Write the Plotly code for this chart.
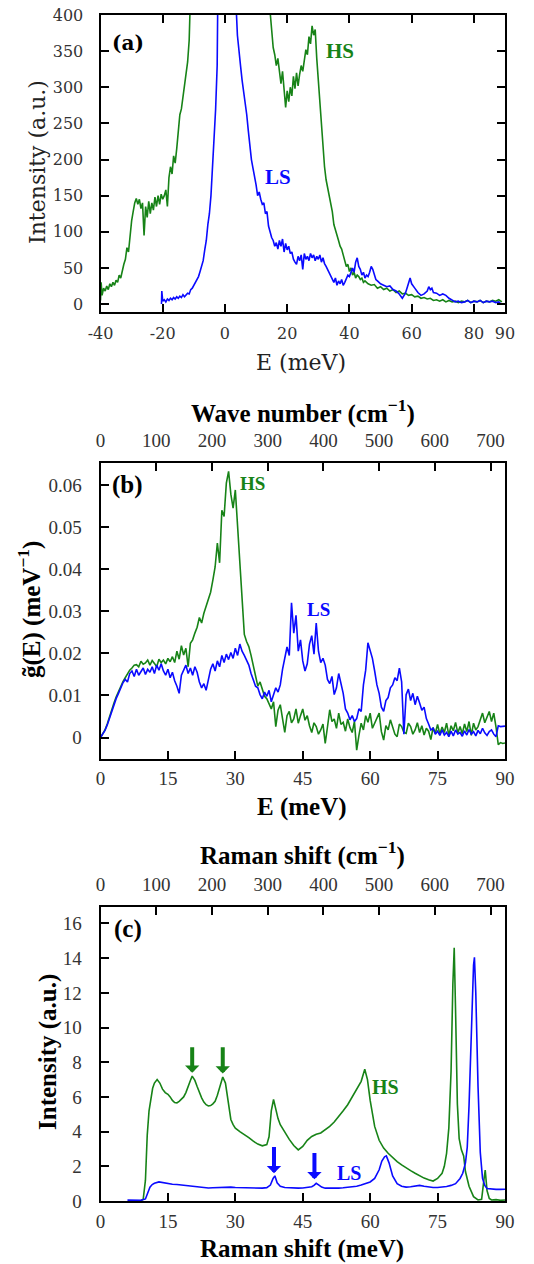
import plotly.graph_objects as go

GREEN = "#178317"
BLUE = "#0a0aff"

# ---------------- Panel (a): inelastic spectra ----------------
a_hs_E = [-40, -39.8, -39.5, -39, -38.5, -38, -37.5, -37, -36.5, -36, -35.5, -35, -34.5, -34, -33.5, -33,
          -32.5, -32, -31.5, -31, -30.5, -30, -29.5, -29, -28.5, -28, -27.5, -27, -26.5, -26, -25.5, -25,
          -24.5, -24, -23.5, -23, -22.5, -22, -21.5, -21, -20.5, -20, -19.5, -19, -18.5, -18, -17.5, -17,
          -16.5, -16, -15.5, -15, -14.5, -14, -13.5, -13, -12.5, -12, -11.5, -11,
          -10, -8, -6, -4, -2, 0, 2, 4, 6, 8, 10, 12, 13, 14,
          14.5, 15, 15.5, 16, 16.5, 17, 17.5, 18, 18.5, 19, 19.5, 20, 20.5, 21, 21.5, 22, 22.5, 23, 23.5, 24,
          24.5, 25, 25.5, 26, 26.5, 27, 27.5, 28, 28.5, 29, 29.5, 30, 30.5, 31, 31.5, 32, 32.5, 33, 33.5, 34,
          34.5, 35, 35.5, 36, 36.5, 37, 37.5, 38, 38.5, 39, 39.5, 40, 40.5, 41, 41.5, 42, 42.5, 43, 43.5, 44,
          44.5, 45,
          46, 47, 48, 49, 50, 51, 52, 53, 54, 55, 56, 57, 58, 59, 60, 61, 62, 63, 64, 65, 66, 67, 68, 69, 70,
          71, 72, 73, 74, 75, 76, 77, 78, 79, 80, 81, 82, 83, 84, 85, 86, 87, 88, 89]
a_hs_I = [5, 30, 12, 22, 18, 25, 20, 28, 24, 30, 26, 33, 30, 40, 36, 48, 55, 62, 78, 72,
          95, 115, 128, 140, 146, 138, 145, 132, 140, 95, 135, 120, 142, 125, 140, 130, 148, 135, 150, 138,
          152, 145, 150, 158, 135, 175, 190, 180, 205, 195, 215, 240, 262, 270, 285, 300, 318, 335, 365, 410,
          520, 900, 1500, 2500, 4000, 5000, 4000, 2500, 1600, 1100, 800, 600, 520, 440,
          405, 380, 355, 345, 330, 340, 318, 305, 322, 290, 272, 295, 280, 300, 288, 315, 298, 320, 302, 318,
          330, 322, 340, 352, 345, 370, 360, 385, 372, 380, 340, 310, 285, 245, 215, 190, 172, 160, 148, 140,
          128, 110, 102, 92, 88, 80, 76, 68, 60, 52, 55, 45, 50, 40, 44, 36, 40, 38, 34, 36,
          30, 32,
          28, 26, 27, 22, 24, 20, 22, 18, 20, 16, 18, 14, 15, 12, 13, 10, 11, 8, 9, 7, 8, 5, 6, 4, 6,
          3, 5, 3, 4, 2, 4, 3, 5, 2, 4, 3, 5, 2, 4, 3, 5, 4, 6, 3]

a_ls_E = [-20.4, -20.3, -20, -19.5, -19, -18.5, -18, -17.5, -17, -16.5, -16, -15.5, -15, -14.5, -14, -13.5,
          -13, -12.5, -12, -11.5, -11, -10.5, -10, -9.5, -9, -8.5, -8, -7.5, -7, -6.5, -6, -5.5, -5, -4.5,
          -4, -3.5, -3, -2.5, -2,
          -1, 0, 1, 2, 3,
          3.5, 4, 4.5, 5, 5.5, 6, 6.5, 7, 7.5, 8, 8.5, 9, 9.5, 10, 10.5, 11, 11.5, 12, 12.5, 13,
          13.5, 14, 14.5, 15, 15.5, 16, 16.5, 17, 17.5, 18, 18.5, 19, 19.5, 20, 20.5, 21, 21.5, 22, 22.5, 23,
          23.5, 24, 24.5, 25, 25.5, 26, 26.5, 27, 27.5, 28, 28.5, 29, 29.5, 30, 30.5, 31, 31.5, 32, 32.5, 33,
          33.5, 34, 34.5, 35, 35.5, 36, 36.5, 37, 37.5, 38, 38.5, 39, 39.5, 40, 40.5, 41, 41.5, 42, 42.5, 43,
          43.5, 44, 44.5, 45, 45.5, 46, 46.5, 47, 47.5, 48, 48.5, 49, 49.5, 50,
          51, 52, 53, 54, 55, 56, 57, 57.5, 58, 58.5, 59, 59.5, 60, 60.5, 61, 62, 63, 64, 65, 65.5, 66, 66.5,
          67, 68, 69, 70, 71, 72, 73, 74, 75, 76, 77, 78, 79, 80, 81, 82, 83, 84, 85, 86, 87, 88, 88.5]
a_ls_I = [0, 18, 4, 6, 3, 7, 5, 8, 6, 9, 7, 10, 8, 11, 9, 13, 10, 12, 15, 14,
          20, 22, 26, 30, 35, 38, 45, 52, 60, 75, 88, 110, 125, 150, 185, 220, 270, 330, 410,
          700, 1500, 2000, 1200, 600,
          420, 372, 355, 330, 310, 295, 280, 262, 240, 215, 200, 188, 178, 165, 150, 155, 145, 138, 140, 125,
          128, 108, 100, 92, 88, 80, 85, 76, 88, 80, 90, 72, 84, 75, 80, 70, 72, 62, 58, 55,
          66, 60, 68, 48, 70, 62, 66, 60, 70, 64, 68, 60, 66, 62, 68, 58, 64, 56, 52, 48,
          44, 40, 34, 30, 36, 26, 32, 28, 34, 26, 30, 34, 40, 38, 46, 50, 44, 58, 64, 52,
          48, 40, 44, 36, 40, 38, 44, 52, 48, 40, 34, 32, 30, 28,
          26, 24, 25, 20, 18, 14, 8, 12, 15, 22, 30, 36, 28, 24, 22, 16, 12, 14, 18, 24, 20, 22,
          16, 15, 12, 14, 12, 8, 6, 3, 4, 2, 3, 5, 2, 4, 3, 5, 2, 4, 3, 4, 2, 3, 1]

a_xticks = [-40, -20, 0, 20, 40, 60, 80, 90]
a_xlabels = ["-40", "-20", "0", "20", "40", "60", "80", "90"]
a_yticks = [0, 50, 100, 150, 200, 250, 300, 350, 400]

# ---------------- Panel (b): phonon DOS ----------------
b_E = [0, 0.5, 1, 1.5, 2, 2.5, 3, 3.5, 4, 4.5, 5, 5.5, 6, 6.5, 7, 7.5, 8, 8.5, 9, 9.5,
       10, 10.5, 11, 11.5, 12, 12.5, 13, 13.5, 14, 14.5, 15, 15.5, 16, 16.5, 17, 17.5, 18, 18.5, 19, 19.5,
       20, 20.5, 21, 21.5, 22, 22.5, 23, 23.5, 24, 24.5, 25, 25.5, 26, 26.5, 27, 27.5, 28, 28.5, 29, 29.5,
       30, 30.5, 31, 31.5, 32, 32.5, 33, 33.5, 34, 34.5, 35, 35.5, 36, 36.5, 37, 37.5, 38, 38.5, 39, 39.5,
       40, 40.5, 41, 41.5, 42, 42.5, 43, 43.5, 44, 44.5, 45, 45.5, 46, 46.5, 47, 47.5, 48, 48.5, 49, 49.5,
       50, 50.5, 51, 51.5, 52, 52.5, 53, 53.5, 54, 54.5, 55, 55.5, 56, 56.5, 57, 57.5, 58, 58.5, 59, 59.5,
       60, 60.5, 61, 61.5, 62, 62.5, 63, 63.5, 64, 64.5, 65, 65.5, 66, 66.5, 67, 67.5, 68, 68.5, 69, 69.5,
       70, 70.5, 71, 71.5, 72, 72.5, 73, 73.5, 74, 74.5, 75, 75.5, 76, 76.5, 77, 77.5, 78, 78.5, 79, 79.5,
       80, 80.5, 81, 81.5, 82, 82.5, 83, 83.5, 84, 84.5, 85, 85.5, 86, 86.5, 87, 87.5, 88, 88.5, 89, 89.5,
       90]
b_hs_g = [0, 0.0008, 0.0018, 0.0032, 0.005, 0.0066, 0.0082, 0.0097, 0.011, 0.0122,
          0.0133, 0.0142, 0.0153, 0.016, 0.0165, 0.0172, 0.0173, 0.0168, 0.0181, 0.0174,
          0.0177, 0.0184, 0.0172, 0.0183, 0.0176, 0.0168, 0.0186, 0.0178, 0.0184, 0.0175,
          0.0188, 0.018, 0.0192, 0.0178, 0.0205, 0.0186, 0.0218, 0.0196, 0.0212, 0.0168,
          0.0224, 0.0232, 0.0248, 0.0262, 0.0285, 0.0272, 0.0295, 0.0312, 0.0327, 0.0345,
          0.0374, 0.0405, 0.0462, 0.0415, 0.054, 0.0525, 0.0604, 0.0632, 0.0578, 0.0545,
          0.0588, 0.05, 0.0406, 0.031, 0.0245, 0.0228, 0.0216, 0.0195, 0.0169, 0.0142,
          0.0122, 0.0132, 0.0113, 0.0098, 0.0092, 0.0078, 0.0068, 0.0085, 0.0026, 0.0065,
          0.0078, 0.0045, 0.0012, 0.0052, 0.0062, 0.0035, 0.0044, 0.0068, 0.0034, 0.0052,
          0.0068, 0.0041, 0.0052, 0.0028, 0.0012, 0.0035, 0.0026, 0.0008, 0.0018, 0.0032,
          -0.0014, 0.0025, 0.0066, 0.0038, 0.0044, 0.0022, 0.0058, 0.0031, 0.0036, 0.0015,
          0.0044, 0.0024, 0.0012, 0.0038, -0.003, 0.0005, 0.0034, 0.0018, 0.0052, 0.0036,
          0.0058, 0.0022, 0.0034, 0.0048, 0.0058, 0.0014, -0.0006, 0.0028, 0.0018, 0.0042,
          0.0026, 0.0008, 0.0002, 0.0032, 0.0026, 0.0012, 0.001, 0.0034, 0.0026, 0.0008,
          0.0018, 0.0035, 0.0012, 0.0028, 0.0006, 0.0022, 0.0015, -0.0005, 0.0024, 0.001,
          0.0031, 0.0008, 0.0025, 0.0012, 0.0034, 0.0005, 0.0028, 0.0016, 0.0036, 0.0011,
          0.0026, 0.0009, 0.0032, 0.0014, 0.0038, 0.0005, 0.0034, 0.0018, 0.0026, 0.0042,
          0.0058, 0.0035, 0.0048, 0.0062, 0.0038, 0.0058, 0.0025, -0.0017, -0.0012, -0.0014,
          -0.0013]
b_ls_g = [0, 0.0008, 0.0017, 0.003, 0.0047, 0.0062, 0.0078, 0.0093, 0.0105, 0.0118,
          0.013, 0.0138, 0.0132, 0.0152, 0.0158, 0.0145, 0.0162, 0.0148, 0.0158, 0.0165,
          0.015, 0.0162, 0.0155, 0.0168, 0.0152, 0.0172, 0.016, 0.0175, 0.0158, 0.0148,
          0.0162, 0.0142, 0.0155, 0.0135, 0.0122, 0.0105, 0.0148, 0.016, 0.0172, 0.0152,
          0.0165, 0.0148, 0.0168, 0.0155, 0.0132, 0.0118, 0.0128, 0.0112, 0.0135, 0.0162,
          0.0175, 0.0158, 0.0182, 0.0168, 0.0195, 0.0178, 0.0198, 0.0185, 0.0202, 0.0188,
          0.0212, 0.0195, 0.0222, 0.0205, 0.0195, 0.0185, 0.0172, 0.0152, 0.0135, 0.0122,
          0.0118, 0.0102, 0.0092, 0.0108, 0.0098, 0.0112, 0.0085, 0.0102, 0.0118, 0.0108,
          0.0125, 0.0162, 0.0185, 0.0215, 0.0195, 0.032, 0.0248, 0.029, 0.0205, 0.0232,
          0.0182, 0.0158, 0.0175, 0.0222, 0.0242, 0.0198, 0.0272, 0.0205, 0.0178, 0.0188,
          0.0172, 0.0138, 0.0128, 0.0145, 0.0102, 0.0118, 0.0152, 0.0125, 0.0105, 0.0068,
          0.0058, 0.0042, 0.0052, 0.0038, 0.0045, 0.0068, 0.0062, 0.0125, 0.016, 0.0225,
          0.0205, 0.0188, 0.0158, 0.0125, 0.0105, 0.0072, 0.0062, 0.0088, 0.0095, 0.0118,
          0.0125, 0.0142, 0.0135, 0.0165, 0.0132, 0.0008, 0.0102, 0.0115, 0.0088, 0.0105,
          0.0078, 0.0098, 0.0082, 0.0065, 0.0072, 0.0045, 0.0032, 0.0018, 0.0022, 0.0008,
          0.0015, 0.0005, 0.0018, 0.0006, 0.0012, 0.0002, 0.0015, 0.0004, 0.0018, 0.0008,
          0.0012, 0.0003, 0.0016, 0.0006, 0.0019, 0.0008, 0.0014, 0.0004, 0.0017, 0.0009,
          0.0022, 0.0011, 0.0005, 0.0014, 0.0018, 0.0008, 0.0002, 0.0028, 0.0026, 0.0027,
          0.0027]

meV_ticks = [0, 15, 30, 45, 60, 75, 90]
b_yticks = [0, 0.01, 0.02, 0.03, 0.04, 0.05, 0.06]
wn_ticks = [0, 100, 200, 300, 400, 500, 600, 700]
MEV_TO_CM = 8.06554

# ---------------- Panel (c): Raman spectra ----------------
c_hs_E = [9, 9.5, 10, 10.4, 10.8, 11.2, 11.6, 12, 12.6, 13.2, 13.8, 14.4, 15, 15.5, 16, 16.5, 17, 17.5, 18,
          18.5, 19, 19.5, 20, 20.4, 21, 21.5, 22, 22.5, 23, 23.5, 24, 24.5, 25, 25.5, 26, 26.5, 27.2, 27.8,
          28.4, 29, 29.5, 30, 31, 32, 33, 34, 35, 36, 37, 37.5, 38, 38.5, 39, 39.5, 40, 41, 42, 43, 44, 45,
          46, 47, 48, 49, 50, 51, 52, 53, 54, 55, 56, 57, 58, 58.8, 59.4, 60, 60.5, 61, 62, 63, 64, 65, 66,
          67, 68, 69, 70, 71, 72, 73, 74, 75, 76, 76.5, 77, 77.5, 78, 78.4, 78.7, 79, 79.4, 79.8, 80.3, 80.8,
          81.2, 82, 83, 84, 84.8, 85.3, 85.6, 86, 86.5, 87, 88, 89, 90]
c_hs_I = [0.02, 0.1, 1.2, 3.8, 5.2, 6.0, 6.5, 6.8, 7.0, 6.8, 6.45, 6.25, 6.15, 6.0, 5.8, 5.68, 5.65, 5.75,
          5.85, 6.0, 6.25, 6.55, 6.95, 7.2, 6.95, 6.6, 6.25, 5.95, 5.7, 5.55, 5.48, 5.5, 5.6, 5.75, 6.1, 6.6,
          7.15, 6.8, 5.6, 4.7, 4.4, 4.2, 4.0, 3.85, 3.65, 3.45, 3.28, 3.18, 3.25, 3.7, 5.2, 5.85, 5.2, 4.75,
          4.4, 3.95, 3.55, 3.2, 2.95, 3.15, 3.5, 3.72, 3.85, 3.92, 4.1, 4.3, 4.55, 4.85, 5.2, 5.55, 6.0, 6.4,
          6.9, 7.6, 7.0, 5.8, 4.9, 4.3, 3.5, 3.05, 2.75, 2.48, 2.27, 2.08, 1.9, 1.75, 1.6, 1.45, 1.32, 1.22,
          1.15, 1.3, 1.6, 2.0, 2.75, 4.2, 7.5, 12.5, 14.6, 11.0, 5.6, 3.6, 2.95, 2.6, 1.7, 0.85, 0.25, 0.06,
          0.1, 1.2, 1.78, 0.6, 0.15, 0.06, 0.08, 0.04, 0.06]
c_ls_E = [6, 7, 8, 9, 10, 10.5, 11, 11.5, 12, 13, 14, 15, 16, 17, 18, 19, 20, 21, 22, 23, 24, 25, 26, 27, 28,
          29, 30, 31, 32, 33, 34, 35, 36, 37, 37.8, 38.4, 38.8, 39.3, 40, 41, 42, 43, 44, 45, 46, 47, 47.5,
          48, 48.6, 49.2, 50, 51, 52, 53, 54, 55, 56, 57, 58, 59, 60, 61, 62, 62.6, 63.2, 63.6, 64.2, 65, 66,
          67, 68, 69, 70, 71, 72, 73, 74, 75, 76, 77, 78, 79, 80, 80.6, 81.2, 81.6, 82, 82.5, 83, 83.2, 83.5,
          84, 84.5, 85, 85.5, 86, 87, 88, 89, 90]
c_ls_I = [0.05, 0.04, 0.05, 0.04, 0.12, 0.45, 0.8, 0.95, 1.02, 1.1, 1.05, 1.0, 0.97, 0.95, 0.92, 0.9, 0.85,
          0.8, 0.77, 0.76, 0.75, 0.76, 0.78, 0.8, 0.82, 0.8, 0.78, 0.77, 0.75, 0.74, 0.73, 0.73, 0.74, 0.77,
          0.92, 1.3, 1.45, 1.05, 0.85, 0.78, 0.76, 0.75, 0.74, 0.75, 0.77, 0.82, 0.9, 1.02, 0.92, 0.8, 0.74,
          0.73, 0.73, 0.74, 0.76, 0.78, 0.8, 0.85, 0.92, 1.02, 1.1, 1.3, 1.8, 2.3, 2.55, 2.6, 2.2, 1.45, 1.0,
          0.85, 0.8, 0.82, 0.85, 0.9, 0.85, 0.8, 0.78, 0.78, 0.8, 0.84, 0.9, 1.0, 1.3, 1.6, 2.2, 3.1, 5.5,
          10.0, 13.6, 14.05, 12.0, 6.6, 2.8, 1.3, 0.9, 0.72, 0.68, 0.67, 0.67, 0.68]
c_yticks = [0, 2, 4, 6, 8, 10, 12, 14, 16]

# arrows: (position meV, tip intensity, tail intensity)
c_hs_arrows = [(20.4, 7.4, 8.95), (27.2, 7.35, 8.95)]
c_ls_arrows = [(38.6, 1.6, 3.2), (47.6, 1.25, 2.85)]

for xs, ys in [(a_hs_E, a_hs_I), (a_ls_E, a_ls_I), (b_E, b_hs_g), (b_E, b_ls_g),
               (c_hs_E, c_hs_I), (c_ls_E, c_ls_I)]:
    assert len(xs) == len(ys), (len(xs), len(ys))

# ---------------- Figure ----------------
W, H = 534, 1264
FA = "DejaVu Serif"
FB = "Liberation Serif"
TICKC = "#333333"

fig = go.Figure()
LW = 1.6
fig.add_trace(go.Scatter(x=a_hs_E, y=a_hs_I, mode="lines", line=dict(color=GREEN, width=LW), name="HS", xaxis="x", yaxis="y"))
fig.add_trace(go.Scatter(x=a_ls_E, y=a_ls_I, mode="lines", line=dict(color=BLUE, width=LW), name="LS", xaxis="x", yaxis="y"))
fig.add_trace(go.Scatter(x=b_E, y=b_hs_g, mode="lines", line=dict(color=GREEN, width=LW), name="HS", xaxis="x2", yaxis="y2"))
fig.add_trace(go.Scatter(x=b_E, y=b_ls_g, mode="lines", line=dict(color=BLUE, width=LW), name="LS", xaxis="x2", yaxis="y2"))
fig.add_trace(go.Scatter(x=c_hs_E, y=c_hs_I, mode="lines", line=dict(color=GREEN, width=LW), name="HS", xaxis="x3", yaxis="y3"))
fig.add_trace(go.Scatter(x=c_ls_E, y=c_ls_I, mode="lines", line=dict(color=BLUE, width=LW), name="LS", xaxis="x3", yaxis="y3"))
# empty traces so the top wave-number axes are created (they draw nothing)
fig.add_trace(go.Scatter(x=wn_ticks, y=[None] * len(wn_ticks), mode="lines", xaxis="x4", yaxis="y2",
                         hoverinfo="skip", showlegend=False))
fig.add_trace(go.Scatter(x=wn_ticks, y=[None] * len(wn_ticks), mode="lines", xaxis="x5", yaxis="y3",
                         hoverinfo="skip", showlegend=False))

XD = [100.5 / W, 505 / W]
def ydom(top, bot):
    return [1 - bot / H, 1 - top / H]

common = dict(showline=True, linecolor="black", linewidth=2, ticks="inside", ticklen=8, tickwidth=2,
              tickcolor="black", showgrid=False, zeroline=False, automargin=False)

fig.update_layout(
    width=W, height=H, margin=dict(l=0, r=0, t=0, b=0, autoexpand=False),
    paper_bgcolor="white", plot_bgcolor="white", showlegend=False,
    xaxis=dict(domain=XD, anchor="y", range=[-40, 90], tickvals=a_xticks, ticktext=a_xlabels, mirror="ticks",
               tickfont=dict(family=FA, size=16, color=TICKC), ticklabelstandoff=6, **common),
    yaxis=dict(domain=ydom(15, 312), anchor="x", range=[-11, 400], tickvals=a_yticks, mirror="ticks",
               tickfont=dict(family=FA, size=16, color=TICKC), ticklabelstandoff=12, **common),
    xaxis2=dict(domain=XD, anchor="y2", range=[0, 90], tickvals=meV_ticks, mirror=True,
                tickfont=dict(family=FB, size=19, color=TICKC), ticklabelstandoff=1, **common),
    yaxis2=dict(domain=ydom(463, 759), anchor="x2", range=[-0.0051, 0.0652], tickvals=b_yticks, mirror=True,
                tickfont=dict(family=FB, size=19, color=TICKC), ticklabelstandoff=13, **common),
    xaxis4=dict(overlaying="x2", anchor="y2", side="top", range=[0, 90 * MEV_TO_CM], tickvals=wn_ticks,
                tickfont=dict(family=FB, size=19, color=TICKC), ticklabelstandoff=6, **common),
    xaxis3=dict(domain=XD, anchor="y3", range=[0, 90], tickvals=meV_ticks, mirror=True,
                tickfont=dict(family=FB, size=19, color=TICKC), ticklabelstandoff=2, **common),
    yaxis3=dict(domain=ydom(907, 1201), anchor="x3", range=[0, 16.95], tickvals=c_yticks, mirror=True,
                tickfont=dict(family=FB, size=19, color=TICKC), ticklabelstandoff=13, **common),
    xaxis5=dict(overlaying="x3", anchor="y3", side="top", range=[0, 90 * MEV_TO_CM], tickvals=wn_ticks,
                tickfont=dict(family=FB, size=19, color=TICKC), ticklabelstandoff=6, **common),
)

ann = []
def ptext(text, x, y, size, family, angle=0, color="black"):
    ann.append(dict(text=text, x=x / W, y=1 - y / H, xref="paper", yref="paper", showarrow=False,
                    xanchor="center", yanchor="middle", textangle=angle,
                    font=dict(family=family, size=size, color=color)))

# axis titles
ptext("Intensity (a.u.)", 37, 162, 22, FA, -90, "#222")
ptext("E (meV)", 301, 363, 22, FA, 0, "#222")
ptext("<b>Wave number (cm<sup>−1</sup>)</b>", 303, 412, 25, FB)
ptext("<b>g̃(E) (meV<sup>−1</sup>)</b>", 29, 610, 25, FB, -90)
ptext("<b>E (meV)</b>", 302, 807, 25, FB)
ptext("<b>Raman shift (cm<sup>−1</sup>)</b>", 302, 853, 25, FB)
ptext("<b>Intensity (a.u.)</b>", 48, 1052, 25, FB, -90)
ptext("<b>Raman shift (meV)</b>", 302, 1249, 25, FB)

def dtext(text, x, y, xr, yr, size, family, color):
    ann.append(dict(text=text, x=x, y=y, xref=xr, yref=yr, showarrow=False, xanchor="center",
                    yanchor="middle", font=dict(family=family, size=size, color=color)))

dtext("<b>(a)</b>", -31.2, 361, "x", "y", 20, FA, "black")
dtext("<b>HS</b>", 37, 350, "x", "y", 21, FB, GREEN)
dtext("<b>LS</b>", 17, 176, "x", "y", 21, FB, BLUE)
dtext("<b>(b)</b>", 6.1, 0.06, "x2", "y2", 25, FB, "black")
dtext("<b>HS</b>", 33.9, 0.0603, "x2", "y2", 19, FB, GREEN)
dtext("<b>LS</b>", 48.6, 0.0303, "x2", "y2", 19, FB, BLUE)
dtext("<b>(c)</b>", 6.1, 15.7, "x3", "y3", 25, FB, "black")
dtext("<b>HS</b>", 63.4, 6.57, "x3", "y3", 20, FB, GREEN)
dtext("<b>LS</b>", 55.4, 1.6, "x3", "y3", 20, FB, BLUE)

for arrows, col in [(c_hs_arrows, GREEN), (c_ls_arrows, BLUE)]:
    for ex, tip, tail in arrows:
        ann.append(dict(x=ex, y=tip, ax=ex, ay=tail, xref="x3", yref="y3", axref="x3", ayref="y3",
                        text="", showarrow=True, arrowhead=1, arrowsize=0.6, arrowwidth=4, arrowcolor=col))

fig.update_layout(annotations=ann)
fig.write_html("out.html", config={"displayModeBar": False},
               post_script="document.body.style.margin='0px';document.body.style.overflow='hidden';")
